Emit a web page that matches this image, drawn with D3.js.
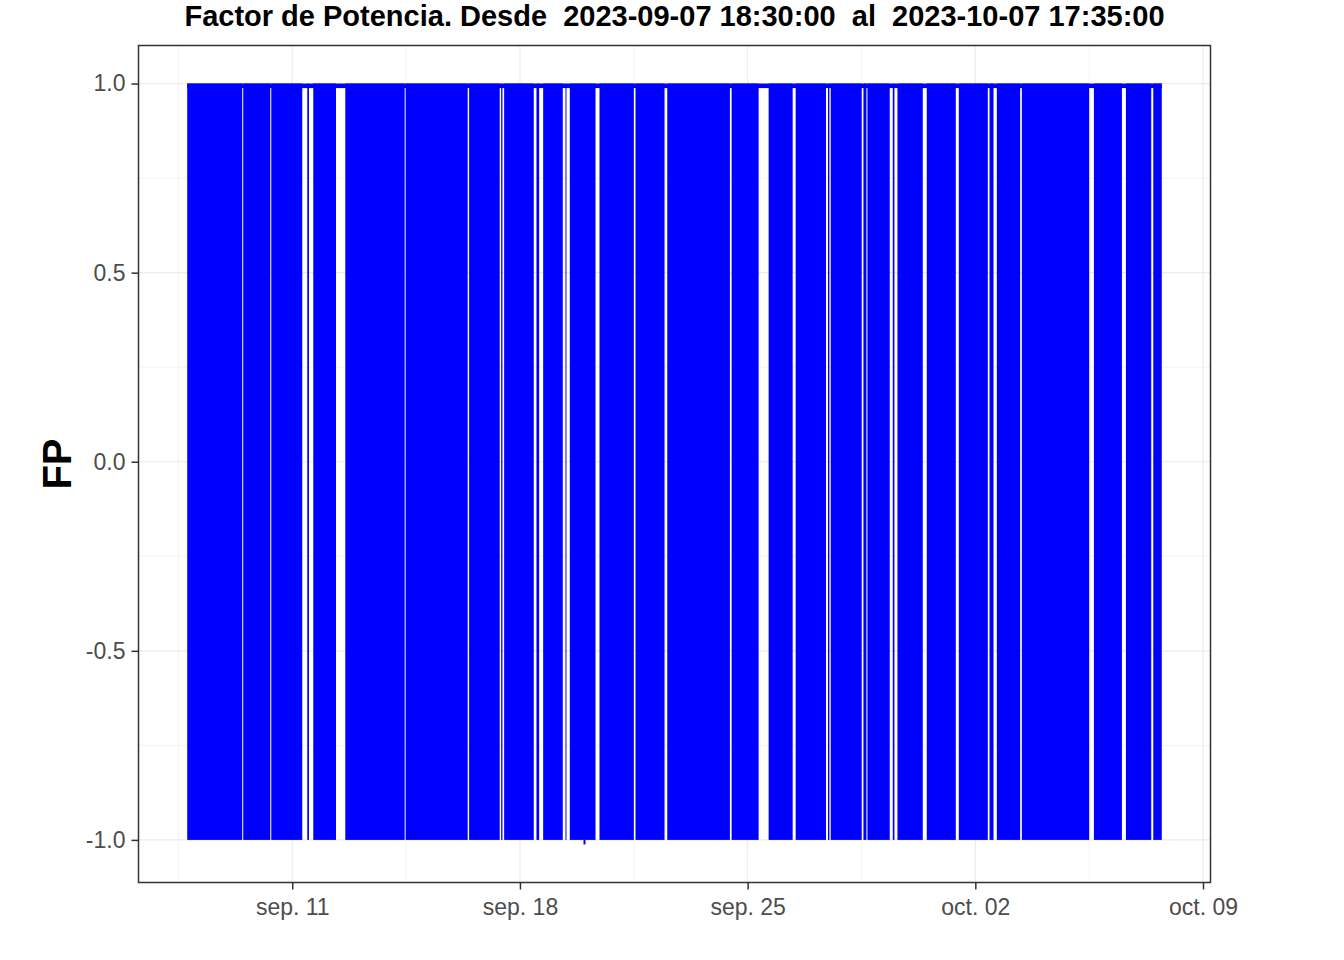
<!DOCTYPE html>
<html>
<head>
<meta charset="utf-8">
<script src="https://cdn.jsdelivr.net/npm/d3@7"></script>
<style>
  body { margin: 0; background: #fff; }
  text { font-family: "Liberation Sans", Arial, sans-serif; }
</style>
</head>
<body>
<div class="chart"></div>
<script>
// ---- data ----
const titleText = "Factor de Potencia. Desde  2023-09-07 18:30:00  al  2023-10-07 17:35:00";
const dataStart = "2023-09-07 18:30";
const dataEnd = "2023-10-07 17:35";

// periods where FP flips between +1 and -1
const blockStart = [
  "2023-09-07 18:30", "2023-09-09 11:49", "2023-09-10 08:30", "2023-09-11 11:05",
  "2023-09-11 15:30", "2023-09-12 15:08", "2023-09-14 11:40", "2023-09-16 10:29",
  "2023-09-17 10:07", "2023-09-17 12:20", "2023-09-18 12:11", "2023-09-18 17:08",
  "2023-09-19 09:36", "2023-09-19 12:47", "2023-09-20 10:42", "2023-09-21 13:17",
  "2023-09-22 12:42", "2023-09-24 12:11", "2023-09-25 15:30", "2023-09-26 11:27",
  "2023-09-27 11:18", "2023-09-27 13:18", "2023-09-28 13:27", "2023-09-28 16:24",
  "2023-09-29 11:05", "2023-09-29 14:33", "2023-09-30 12:11", "2023-10-01 11:49",
  "2023-10-02 10:29", "2023-10-02 15:53", "2023-10-03 10:20", "2023-10-05 15:31",
  "2023-10-06 15:08", "2023-10-07 11:18"
];
const blockEnd = [
  "2023-09-09 11:05", "2023-09-10 07:45", "2023-09-11 07:23", "2023-09-11 12:20",
  "2023-09-12 08:16", "2023-09-14 10:56", "2023-09-16 09:27", "2023-09-17 09:05",
  "2023-09-17 11:05", "2023-09-18 10:12", "2023-09-18 14:11", "2023-09-19 07:36",
  "2023-09-19 10:20", "2023-09-20 07:45", "2023-09-21 12:02", "2023-09-22 10:42",
  "2023-09-24 10:56", "2023-09-25 08:07", "2023-09-26 09:14", "2023-09-27 09:49",
  "2023-09-27 12:20", "2023-09-28 12:11", "2023-09-28 15:40", "2023-09-29 08:52",
  "2023-09-29 12:20", "2023-09-30 09:14", "2023-10-01 09:36", "2023-10-02 09:14",
  "2023-10-02 13:26", "2023-10-03 09:05", "2023-10-05 12:02", "2023-10-06 12:11",
  "2023-10-07 09:49", "2023-10-07 17:35"
];
const fpHigh = 1.0;     // top of the oscillation
const fpLow = -1.0;     // bottom of the oscillation
const fpRest = 0.988;   // level kept between blocks
const dipTime = "2023-09-19 23:38";
const dipValue = -1.012;

const yTicks = [-1.0, -0.5, 0.0, 0.5, 1.0];
const yMinor = [-0.75, -0.25, 0.25, 0.75];
const xTickDates = ["2023-09-11", "2023-09-18", "2023-09-25", "2023-10-02", "2023-10-09"];
const xTickLabels = ["sep. 11", "sep. 18", "sep. 25", "oct. 02", "oct. 09"];
const xMinorDates = ["2023-09-07 12:00", "2023-09-14 12:00", "2023-09-21 12:00", "2023-09-28 12:00", "2023-10-05 12:00"];

// ---- layout ----
const margin = ({top: 45.5, right: 133.5, bottom: 77.5, left: 138.5});
const width = 1344 - margin.left - margin.right;
const height = 960 - margin.top - margin.bottom;

const parseT = d3.timeParse("%Y-%m-%d %H:%M");
const parseD = d3.timeParse("%Y-%m-%d");

const blocks = blockStart.map((s, i) => ({start: parseT(s), end: parseT(blockEnd[i])}));
const t0 = parseT(dataStart), t1 = parseT(dataEnd);

// ggplot-like 5% expansion
const span = t1 - t0;
const xScale = d3.scaleTime()
    .domain([new Date(+t0 - span * 0.05), new Date(+t1 + span * 0.05)])
    .range([0, width]);

const yMin = Math.min(fpLow, dipValue), yMax = fpHigh;
const yPad = (yMax - yMin) * 0.05;
const yScale = d3.scaleLinear()
    .domain([yMin - yPad, yMax + yPad])
    .range([height, 0]);

const svg = d3.select('.chart').append('svg')
    .attr("width", 1344)
    .attr("height", 960);

const plot = svg.append("g")
    .attr("transform", "translate(" + margin.left + "," + margin.top + ")");

// grid
plot.selectAll(".ygrid-minor").data(yMinor).enter().append("line")
    .attr("x1", 0).attr("x2", width)
    .attr("y1", d => yScale(d)).attr("y2", d => yScale(d))
    .attr("stroke", "#ebebeb").attr("stroke-width", 0.6);
plot.selectAll(".xgrid-minor").data(xMinorDates.map(parseT)).enter().append("line")
    .attr("y1", 0).attr("y2", height)
    .attr("x1", d => xScale(d)).attr("x2", d => xScale(d))
    .attr("stroke", "#ebebeb").attr("stroke-width", 0.6);
plot.selectAll(".ygrid").data(yTicks).enter().append("line")
    .attr("x1", 0).attr("x2", width)
    .attr("y1", d => yScale(d)).attr("y2", d => yScale(d))
    .attr("stroke", "#ebebeb").attr("stroke-width", 1.2);
plot.selectAll(".xgrid").data(xTickDates.map(parseD)).enter().append("line")
    .attr("y1", 0).attr("y2", height)
    .attr("x1", d => xScale(d)).attr("x2", d => xScale(d))
    .attr("stroke", "#ebebeb").attr("stroke-width", 1.2);

// resting level between blocks
plot.append("rect")
    .attr("x", xScale(t0))
    .attr("width", xScale(t1) - xScale(t0))
    .attr("y", yScale(fpHigh))
    .attr("height", yScale(fpRest) - yScale(fpHigh))
    .attr("fill", "#0000ff");

// oscillation blocks
plot.selectAll(".block").data(blocks).enter().append("rect")
    .attr("class", "block")
    .attr("x", d => xScale(d.start))
    .attr("width", d => Math.max(0.8, xScale(d.end) - xScale(d.start)))
    .attr("y", yScale(fpHigh))
    .attr("height", yScale(fpLow) - yScale(fpHigh))
    .attr("fill", "#0000ff");

// lowest reading
plot.append("line")
    .attr("x1", xScale(parseT(dipTime))).attr("x2", xScale(parseT(dipTime)))
    .attr("y1", yScale(fpLow)).attr("y2", yScale(dipValue))
    .attr("stroke", "#0000ff").attr("stroke-width", 2);

// axes
const xAxis = d3.axisBottom(xScale)
    .tickValues(xTickDates.map(parseD))
    .tickFormat((d, i) => xTickLabels[i])
    .tickSize(7).tickPadding(9);
const yAxis = d3.axisLeft(yScale)
    .tickValues(yTicks)
    .tickFormat(d => d.toFixed(1))
    .tickSize(7).tickPadding(6);

const gx = plot.append("g")
    .attr("transform", `translate(0, ${height})`)
    .call(xAxis);
const gy = plot.append("g").call(yAxis);

[gx, gy].forEach(g => {
    g.select(".domain").remove();
    g.selectAll(".tick line").attr("stroke", "#333333").attr("stroke-width", 1.5);
    g.selectAll(".tick text")
        .attr("fill", "#4d4d4d")
        .attr("font-size", "23px")
        .attr("font-family", "'Liberation Sans', Arial, sans-serif");
});

// panel border
plot.append("rect")
    .attr("width", width).attr("height", height)
    .attr("fill", "none")
    .attr("stroke", "#333333")
    .attr("stroke-width", 1.5);

// title
svg.append("text")
    .attr("x", margin.left + width / 2)
    .attr("y", 26)
    .attr("text-anchor", "middle")
    .attr("font-size", "29px")
    .attr("font-weight", "bold")
    .attr("fill", "#000")
    .style("white-space", "pre")
    .text(titleText);

// y title
svg.append("text")
    .attr("transform", `translate(71, ${margin.top + height / 2}) rotate(-90)`)
    .attr("text-anchor", "middle")
    .attr("font-size", "40px")
    .attr("font-weight", "bold")
    .attr("fill", "#000")
    .text("FP");
</script>
</body>
</html>
